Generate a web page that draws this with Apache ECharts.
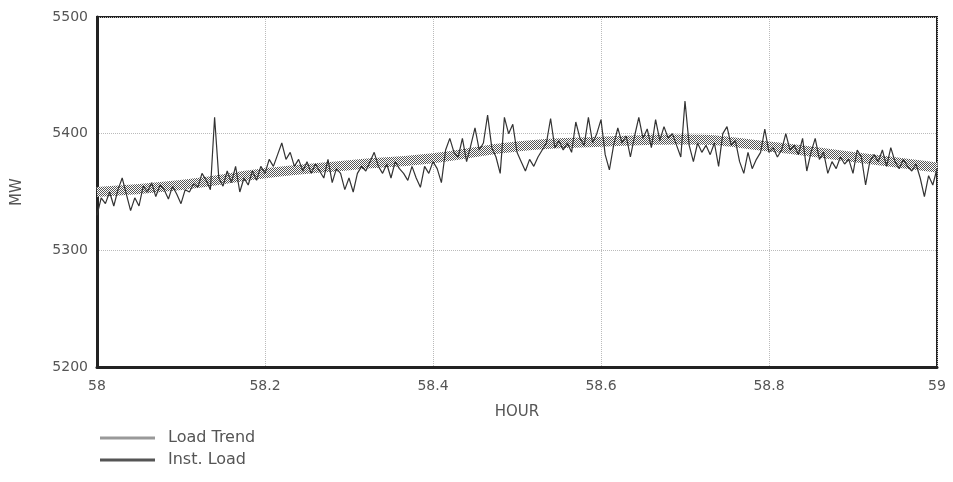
<!DOCTYPE html>
<html>
<head>
<meta charset="utf-8">
<script src="https://cdn.jsdelivr.net/npm/echarts@6/dist/echarts.min.js"></script>
<style>html,body{margin:0;padding:0;background:#fff;}#c{width:953px;height:482px;}</style>
</head>
<body>
<div id="c"></div>
<script>
var hourStart = 58, hourStep = 0.005;
var instLoad = [
5330,5345,5340,5350,5338,5352,5362,5348,5334,5345,5338,5355,5350,5358,5346,5356,5352,5344,5355,5348,
5340,5352,5350,5357,5354,5366,5360,5352,5414,5362,5355,5368,5358,5372,5350,5362,5356,5368,5360,5372,
5366,5378,5372,5382,5392,5378,5384,5372,5378,5368,5376,5366,5374,5368,5362,5378,5358,5370,5366,5352,
5362,5350,5366,5372,5368,5376,5384,5372,5366,5374,5362,5376,5370,5366,5360,5372,5362,5354,5372,5366,
5376,5370,5358,5386,5396,5384,5380,5396,5376,5390,5405,5386,5392,5416,5388,5380,5366,5414,5400,5408,
5384,5376,5368,5378,5372,5380,5386,5392,5413,5388,5394,5386,5392,5384,5410,5396,5390,5414,5392,5400,
5412,5382,5369,5390,5405,5392,5398,5380,5398,5414,5396,5404,5388,5412,5394,5406,5396,5400,5390,5380,
5428,5390,5376,5392,5384,5390,5382,5392,5372,5400,5406,5390,5394,5376,5366,5384,5370,5378,5384,5404,
5384,5388,5380,5386,5400,5386,5390,5382,5396,5368,5384,5396,5378,5384,5366,5376,5370,5380,5374,5378,
5366,5386,5380,5356,5376,5382,5376,5386,5372,5388,5376,5370,5378,5372,5368,5374,5362,5346,5364,5356,
5370
];
var trendHours = [58,58.1,58.2,58.3,58.4,58.5,58.6,58.7,58.8,58.9,59];
var trendLoad = [5350,5356,5366,5373,5379,5389,5393,5395,5389,5380,5371];
var seriesNames = ['Load Trend','Inst. Load'];
var xTitle = 'HOUR', yTitle = 'MW';

var instData = instLoad.map(function(v,i){return [Math.round((hourStart + i*hourStep)*1000)/1000, v];});
var trendData = trendHours.map(function(h,i){return [h, trendLoad[i]];});

function makePattern(){
  var c = document.createElement('canvas');
  c.width = 4; c.height = 4;
  var g = c.getContext('2d');
  g.fillStyle = '#fff'; g.fillRect(0,0,4,4);
  g.fillStyle = '#555';
  g.fillRect(0,0,1,1); g.fillRect(2,0,1,1);
  g.fillRect(1,1,1,1); g.fillRect(3,1,1,1);
  g.fillRect(0,2,1,1); g.fillRect(2,2,1,1);
  g.fillRect(1,3,1,1); g.fillRect(3,3,1,1);
  return {image: c, repeat: 'repeat'};
}
var pat = makePattern();
var font = 'DejaVu Sans';
var chart = echarts.init(document.getElementById('c'), null, {renderer:'canvas'});
chart.setOption({
  animation: false,
  backgroundColor: '#fff',
  grid: {left: 97, right: 16, top: 17, bottom: 115, show: true, borderColor: '#222', borderWidth: 2, backgroundColor: 'transparent'},
  legend: {
    orient: 'vertical', left: 95, top: 425, itemWidth: 55, itemHeight: 3, itemGap: 6,
    icon: 'rect',
    textStyle: {fontFamily: font, fontSize: 16, color: '#555', padding: [0,0,0,8]},
    data: [
      {name: seriesNames[0], itemStyle: {color: '#999'}},
      {name: seriesNames[1], itemStyle: {color: '#555'}}
    ]
  },
  xAxis: {
    type: 'value', min: 58, max: 59, interval: 0.2,
    name: xTitle, nameLocation: 'middle', nameGap: 38,
    nameTextStyle: {fontFamily: font, fontSize: 15, color: '#555'},
    axisLine: {show: true, onZero: false, lineStyle: {color: '#222', width: 3}},
    axisTick: {show: false},
    axisLabel: {fontFamily: font, fontSize: 14, color: '#555', margin: 12,
      formatter: function(v){return String(Math.round(v*10)/10);}},
    splitLine: {show: true, lineStyle: {color: '#bbb', type: 'dotted', width: 1}}
  },
  yAxis: {
    type: 'value', min: 5200, max: 5500, interval: 100,
    name: yTitle, nameLocation: 'middle', nameGap: 72, nameRotate: 90,
    nameTextStyle: {fontFamily: font, fontSize: 15, color: '#555'},
    axisLine: {show: true, lineStyle: {color: '#222', width: 3}},
    axisTick: {show: false},
    axisLabel: {fontFamily: font, fontSize: 14, color: '#555', margin: 9,
      formatter: function(v){return String(v);}},
    splitLine: {show: true, lineStyle: {color: '#bbb', type: 'dotted', width: 1}}
  },
  series: [
    {name: seriesNames[0], type: 'line', data: trendData, smooth: true, showSymbol: false,
     lineStyle: {width: 10, color: pat}, itemStyle: {color: '#999'}, z: 2},
    {name: seriesNames[1], type: 'line', data: instData, showSymbol: false,
     lineStyle: {width: 1.2, color: '#333'}, itemStyle: {color: '#555'}, z: 3}
  ]
});
</script>
</body>
</html>
